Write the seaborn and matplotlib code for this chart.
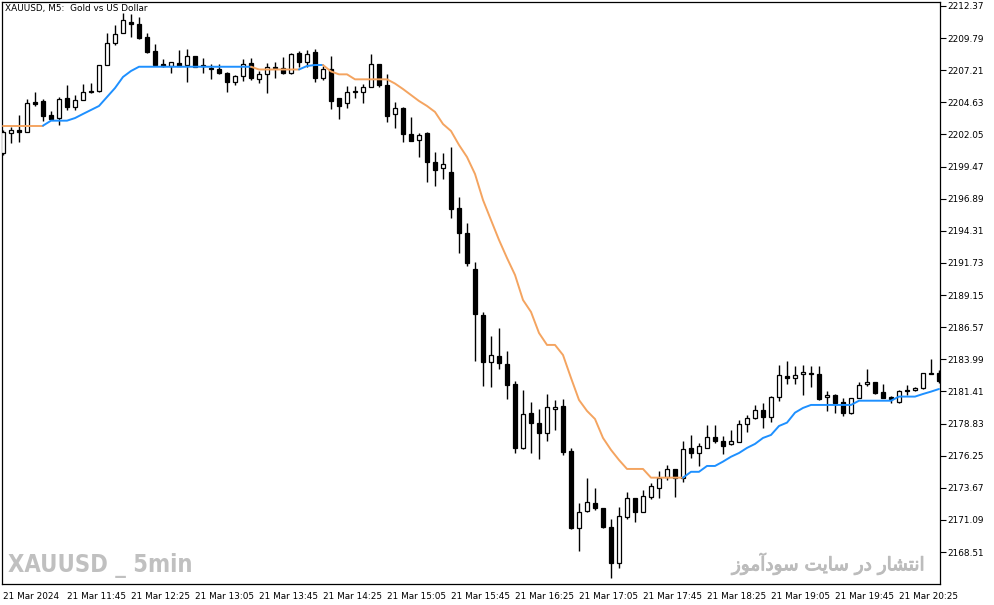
import matplotlib
matplotlib.use("Agg")
import matplotlib.pyplot as plt
import matplotlib.patheffects as pe
import numpy as np
import pandas as pd
import seaborn as sns

# XAUUSD M5 candles, 11:05 .. 20:50 on 21 Mar 2024
opens = [2200.56, 2202.17, 2202.41, 2202.25, 2204.66, 2204.74, 2203.62, 2203.37, 2204.98, 2204.26,
         2204.82, 2205.54, 2205.54, 2207.63, 2209.40, 2210.20, 2211.08, 2210.92, 2209.88, 2208.75,
         2207.71, 2207.55, 2207.79, 2207.63, 2208.35, 2207.63, 2207.39, 2207.31, 2206.99, 2206.27,
         2206.75, 2207.79, 2206.51, 2206.91, 2207.47, 2207.39, 2206.99, 2208.59, 2207.87, 2208.67,
         2206.59, 2207.31, 2204.98, 2204.58, 2205.56, 2205.46, 2205.86, 2207.71, 2206.02, 2203.70,
         2204.18, 2202.09, 2201.61, 2202.17, 2199.84, 2199.36, 2199.04, 2196.15, 2194.14, 2191.25,
         2187.56, 2183.78, 2184.26, 2183.62, 2182.01, 2176.88, 2179.69, 2178.88, 2178.08, 2180.01,
         2180.25, 2176.63, 2170.45, 2171.82, 2172.46, 2172.06, 2170.53, 2167.64, 2171.34, 2172.86,
         2171.74, 2172.94, 2173.66, 2174.55, 2175.19, 2174.47, 2176.88, 2176.47, 2176.88, 2177.76,
         2177.44, 2177.20, 2177.36, 2178.80, 2179.28, 2179.93, 2179.36, 2180.97, 2182.66, 2182.50,
         2182.82, 2182.90, 2182.82, 2180.97, 2181.13, 2180.57, 2179.69, 2180.89, 2182.01, 2182.18,
         2181.37, 2180.97, 2180.57, 2181.53, 2181.53, 2181.69, 2182.90, 2182.90]
highs = [2202.41, 2202.65, 2203.62, 2204.90, 2205.46, 2204.90, 2203.94, 2205.06, 2206.02, 2205.22,
         2206.10, 2206.18, 2207.63, 2210.20, 2210.84, 2211.81, 2211.73, 2211.48, 2210.20, 2209.32,
         2208.11, 2207.87, 2208.84, 2208.92, 2208.35, 2208.19, 2207.71, 2207.71, 2207.07, 2206.83,
         2208.11, 2208.19, 2207.15, 2207.79, 2207.87, 2208.27, 2208.59, 2208.75, 2208.84, 2208.92,
         2207.55, 2208.35, 2204.98, 2205.94, 2205.94, 2206.10, 2208.51, 2207.71, 2206.91, 2204.66,
         2204.26, 2203.46, 2202.17, 2202.25, 2200.64, 2200.56, 2201.05, 2197.03, 2194.94, 2191.81,
         2187.80, 2185.87, 2186.51, 2184.66, 2182.26, 2181.53, 2180.57, 2180.01, 2181.21, 2180.73,
         2180.81, 2176.88, 2172.46, 2174.47, 2173.66, 2172.06, 2171.17, 2172.14, 2173.34, 2172.86,
         2173.50, 2174.07, 2175.03, 2175.51, 2175.19, 2177.44, 2177.92, 2177.28, 2178.72, 2178.72,
         2177.84, 2178.32, 2179.12, 2179.52, 2180.33, 2180.49, 2181.05, 2183.54, 2183.86, 2183.46,
         2183.54, 2183.46, 2183.46, 2181.45, 2181.21, 2180.89, 2180.89, 2182.18, 2183.22, 2182.18,
         2182.01, 2181.05, 2181.53, 2181.93, 2181.77, 2182.90, 2184.02, 2183.10]
lows = [2200.40, 2201.37, 2201.45, 2202.25, 2204.34, 2203.13, 2203.30, 2202.81, 2204.02, 2204.02,
        2204.82, 2205.38, 2205.46, 2207.63, 2209.24, 2210.20, 2209.88, 2209.72, 2208.59, 2207.63,
        2207.47, 2206.99, 2207.55, 2206.27, 2207.47, 2206.99, 2206.51, 2206.91, 2205.46, 2206.02,
        2206.35, 2206.43, 2206.18, 2205.38, 2206.59, 2206.91, 2206.91, 2207.47, 2207.47, 2206.27,
        2206.43, 2204.10, 2203.30, 2204.18, 2204.98, 2204.58, 2205.86, 2205.86, 2203.05, 2202.57,
        2201.45, 2201.53, 2200.24, 2198.24, 2197.92, 2198.48, 2195.35, 2192.53, 2191.49, 2183.86,
        2181.85, 2181.77, 2183.22, 2180.81, 2176.47, 2176.80, 2176.47, 2175.99, 2177.44, 2178.32,
        2176.31, 2170.37, 2168.60, 2171.74, 2171.90, 2170.45, 2166.44, 2167.24, 2171.17, 2170.93,
        2171.74, 2172.78, 2172.86, 2174.31, 2172.94, 2174.15, 2176.07, 2175.43, 2176.88, 2177.28,
        2176.39, 2177.12, 2177.36, 2178.16, 2179.20, 2178.48, 2178.96, 2180.65, 2182.01, 2182.01,
        2181.13, 2181.77, 2180.73, 2179.85, 2179.69, 2179.45, 2179.61, 2180.89, 2181.85, 2181.21,
        2180.89, 2180.49, 2180.49, 2181.13, 2181.45, 2181.61, 2182.82, 2182.10]
closes = [2202.25, 2202.41, 2202.25, 2204.58, 2204.50, 2203.53, 2203.30, 2204.90, 2204.26, 2204.82,
          2205.46, 2205.46, 2207.63, 2209.40, 2210.12, 2211.24, 2210.92, 2209.80, 2208.67, 2207.63,
          2207.55, 2207.87, 2207.55, 2208.35, 2207.47, 2207.55, 2207.31, 2206.99, 2206.27, 2206.75,
          2207.71, 2206.59, 2206.91, 2207.47, 2207.39, 2206.99, 2208.51, 2207.87, 2208.51, 2206.59,
          2207.31, 2204.74, 2204.34, 2205.46, 2205.50, 2205.86, 2207.71, 2206.02, 2203.53, 2204.18,
          2202.09, 2201.53, 2202.01, 2199.84, 2199.20, 2199.68, 2196.07, 2194.14, 2191.73, 2187.64,
          2183.78, 2184.34, 2183.70, 2181.93, 2176.88, 2179.61, 2178.88, 2178.08, 2180.17, 2180.17,
          2176.55, 2170.45, 2171.74, 2172.54, 2172.06, 2170.53, 2167.64, 2171.42, 2172.86, 2171.74,
          2173.02, 2173.82, 2174.47, 2175.19, 2174.47, 2176.80, 2176.47, 2177.04, 2177.76, 2177.44,
          2177.04, 2177.44, 2178.80, 2179.28, 2179.93, 2179.36, 2180.97, 2182.74, 2182.50, 2182.74,
          2182.98, 2182.82, 2180.81, 2181.13, 2180.49, 2179.69, 2180.89, 2181.93, 2182.18, 2181.29,
          2180.89, 2180.81, 2181.45, 2181.45, 2181.69, 2182.90, 2182.82, 2182.26]

# trend line (indicator), one value per bar
line_vals = [2202.76, 2202.76, 2202.76, 2202.76, 2202.76, 2202.76, 2203.16, 2203.16, 2203.16, 2203.37,
             2203.70, 2204.02, 2204.34, 2205.06, 2205.78, 2206.67, 2207.15, 2207.49, 2207.49, 2207.49,
             2207.49, 2207.49, 2207.49, 2207.49, 2207.49, 2207.49, 2207.49, 2207.49, 2207.49, 2207.49,
             2207.49, 2207.49, 2207.27, 2207.27, 2207.27, 2207.27, 2207.27, 2207.27, 2207.55, 2207.63,
             2207.63, 2207.11, 2206.88, 2206.88, 2206.48, 2206.48, 2206.48, 2206.48, 2206.48, 2206.14,
             2205.70, 2205.22, 2204.74, 2204.34, 2203.86, 2202.89, 2202.33, 2201.21, 2200.24, 2198.88,
             2196.79, 2195.18, 2193.58, 2192.13, 2190.77, 2188.76, 2187.80, 2186.11, 2185.15, 2185.15,
             2184.34, 2182.50, 2180.73, 2179.85, 2179.20, 2177.68, 2176.72, 2175.91, 2175.19, 2175.19,
             2175.19, 2174.49, 2174.49, 2174.49, 2174.49, 2174.49, 2174.96, 2174.96, 2175.43, 2175.43,
             2175.78, 2176.17, 2176.47, 2176.88, 2177.20, 2177.68, 2177.92, 2178.64, 2178.91, 2179.71,
             2180.09, 2180.33, 2180.33, 2180.33, 2180.33, 2180.33, 2180.33, 2180.67, 2180.67, 2180.67,
             2180.67, 2180.67, 2181.00, 2181.00, 2181.00, 2181.21, 2181.40, 2181.61]
# direction of the line segment ending at each bar: 'up' blue, 'dn' orange
trend_runs = [("dn", 6), ("up", 26), ("dn", 6), ("up", 3), ("dn", 45), ("up", 32)]

x_labels = ["21 Mar 2024", "21 Mar 11:45", "21 Mar 12:25", "21 Mar 13:05", "21 Mar 13:45",
            "21 Mar 14:25", "21 Mar 15:05", "21 Mar 15:45", "21 Mar 16:25", "21 Mar 17:05",
            "21 Mar 17:45", "21 Mar 18:25", "21 Mar 19:05", "21 Mar 19:45", "21 Mar 20:25"]
y_ticks = [2212.37, 2209.79, 2207.21, 2204.63, 2202.05, 2199.47, 2196.89, 2194.31, 2191.73,
           2189.15, 2186.57, 2183.99, 2181.41, 2178.83, 2176.25, 2173.67, 2171.09, 2168.51]

title = "XAUUSD, M5:  Gold vs US Dollar"
mark_left = "XAUUSD _ 5min"
mark_right = "انتشار در سایت سودآموز"

UP_COLOR = "#1e90ff"
DN_COLOR = "#f4a460"


def shape_persian(text):
    # tiny contextual shaper + reversal, matplotlib has no bidi/shaping
    forms = {
        "ا": ("\uFE8D", "\uFE8E", None, None),
        "آ": ("\uFE81", "\uFE82", None, None),
        "ن": ("\uFEE5", "\uFEE6", "\uFEE7", "\uFEE8"),
        "ت": ("\uFE95", "\uFE96", "\uFE97", "\uFE98"),
        "ش": ("\uFEB5", "\uFEB6", "\uFEB7", "\uFEB8"),
        "ر": ("\uFEAD", "\uFEAE", None, None),
        "د": ("\uFEA9", "\uFEAA", None, None),
        "س": ("\uFEB1", "\uFEB2", "\uFEB3", "\uFEB4"),
        "ی": ("\uFBFC", "\uFBFD", "\uFEF3", "\uFEF4"),
        "و": ("\uFEED", "\uFEEE", None, None),
        "م": ("\uFEE1", "\uFEE2", "\uFEE3", "\uFEE4"),
        "ز": ("\uFEAF", "\uFEB0", None, None),
    }
    out = []
    for k, c in enumerate(text):
        if c not in forms:
            out.append(c)
            continue
        prev = text[k - 1] if k > 0 else " "
        nxt = text[k + 1] if k + 1 < len(text) else " "
        jp = prev in forms and forms[prev][2] is not None
        jn = nxt in forms and forms[c][2] is not None
        iso, fin, ini, med = forms[c]
        if jp and jn:
            out.append(med)
        elif jp:
            out.append(fin)
        elif jn:
            out.append(ini)
        else:
            out.append(iso)
    return "".join(out)[::-1]


df = pd.DataFrame({"open": opens, "high": highs, "low": lows, "close": closes, "line": line_vals})
df["bar"] = np.arange(len(df))

# split line into colored pieces sharing their end points
pieces = []
seg_colors = {}
start = 0
for seg, (t, n) in enumerate(trend_runs):
    a = max(start - 1, 0)
    b = start + n - 1
    part = df.loc[a:b, ["bar", "line"]].copy()
    part["seg"] = seg
    pieces.append(part)
    seg_colors[seg] = UP_COLOR if t == "up" else DN_COLOR
    start += n
df_line = pd.concat(pieces, ignore_index=True)

sns.set_style("white")
plt.rcParams["font.family"] = ["DejaVu Sans"]

fig = plt.figure(figsize=(9.94, 6.05), dpi=100)
ax = fig.add_axes([2 / 994, 1 - 584 / 605, 938 / 994, 582 / 605])

bull = df["close"] >= df["open"]
ax.vlines(df["bar"], df["low"], df["high"], color="black", lw=1.0, zorder=2)
body_h = (df["close"] - df["open"]).abs().clip(lower=0.04)
ax.bar(df["bar"], body_h, bottom=df[["open", "close"]].min(axis=1), width=0.62,
       color=np.where(bull, "white", "black"), edgecolor="black", linewidth=0.9, zorder=3)

sns.lineplot(data=df_line, x="bar", y="line", hue="seg", palette=seg_colors, legend=False,
             estimator=None, sort=False, lw=1.4, ax=ax, zorder=4)

ax.set_xlim(-0.125, 117.125)
ax.set_ylim(2165.95, 2212.69)
ax.yaxis.tick_right()
ax.set_yticks(y_ticks)
ax.set_yticklabels([f"{v:.2f}" for v in y_ticks])
ax.set_xticks(np.arange(0, 8 * len(x_labels), 8))
ax.set_xticklabels(x_labels)
for lbl in ax.get_xticklabels():
    lbl.set_ha("left")
ax.tick_params(axis="both", direction="out", length=4, width=0.8, color="black",
               labelsize=6.4, labelcolor="black", pad=1.5)
ax.tick_params(axis="x", pad=2)
ax.set_xlabel("")
ax.set_ylabel("")
for sp in ax.spines.values():
    sp.set_color("black")
    sp.set_linewidth(0.9)
    sp.set_visible(True)

fig.text(5 / 994, 1 - 8.5 / 605, title, fontsize=6.4, va="center", ha="left", color="black")
fig.text(8 / 994, 1 - 565 / 605, mark_left, fontsize=17, fontweight="bold",
         fontstretch="condensed", family=["DejaVu Sans"], color="#c0c0c0",
         va="center", ha="left")
fig.text(925 / 994, 1 - 564 / 605, shape_persian(mark_right), fontsize=13.3,
         color="#bcbcbc", va="center", ha="right", family=["DejaVu Sans"],
         path_effects=[pe.withStroke(linewidth=0.7, foreground="#bcbcbc")])

fig.savefig("out.png", dpi=100, facecolor="white")
